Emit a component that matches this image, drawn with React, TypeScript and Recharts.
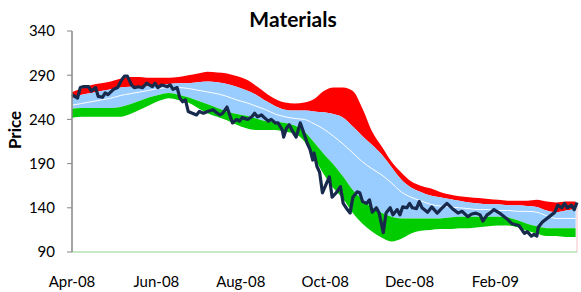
import { ComposedChart, Area, Line, XAxis, YAxis, ReferenceLine } from "recharts";

// band readings, one per week from Apr-08
const bandDays = [
  0, 7, 14, 21, 28, 35, 42, 49, 56, 63, 70, 77, 84, 91, 98, 105, 112, 119, 126, 133, 140, 147, 154, 161, 168, 175,
  182, 189, 196, 203, 210, 217, 224, 231, 238, 245, 252, 259, 266, 273, 280, 287, 294, 301, 308, 315, 322, 329, 336,
  343, 350, 357, 364,
];
const redTop = [
  271, 275, 279, 281, 283, 286, 288, 288, 287, 287, 287, 288, 290, 292, 294, 293, 292, 289, 285, 278, 270, 263, 259,
  258, 259, 263, 272, 276, 276, 272, 252, 226, 209, 192, 180, 170, 165, 162, 158, 155, 153, 152, 151, 150, 149, 148,
  148, 148, 149, 147, 146, 147, 147,
];
const blueTop = [
  264, 268, 270, 272, 274, 276, 277, 277, 278, 279, 280, 281, 281, 282, 283, 282, 280, 277, 273, 268, 261, 255, 251,
  250, 250, 249, 248, 246, 242, 232, 221, 211, 200, 186, 172, 163, 158, 154, 152, 150, 148, 146, 145, 144, 144, 143,
  143, 142, 141, 137, 135, 137, 139,
];
const movingAvg = [
  256, 258, 260, 262, 264, 267, 269, 271, 273, 275, 276, 276, 275, 273, 271, 269, 266, 262, 259, 255, 251, 246, 243,
  241, 240, 235, 229, 221, 212, 202, 192, 184, 177, 168, 158, 152, 148, 144, 142, 141, 140, 139, 138, 138, 137, 137,
  136, 136, 135, 131, 128, 128, 128,
];
const blueBottom = [
  252, 253, 253, 253, 253, 254, 257, 261, 265, 268, 270, 268, 265, 261, 257, 253, 249, 246, 244, 241, 238, 237, 236,
  233, 226, 214, 201, 189, 175, 160, 149, 140, 134, 130, 128, 128, 128, 128, 128, 129, 130, 130, 130, 130, 130, 129,
  126, 122, 119, 117, 117, 117, 117,
];
const greenBottom = [
  242, 243, 243, 243, 243, 243, 246, 251, 256, 261, 264, 262, 259, 253, 247, 243, 239, 234, 230, 228, 228, 228, 226,
  224, 215, 197, 178, 162, 150, 134, 122, 113, 106, 102, 105, 111, 114, 115, 116, 116, 117, 117, 118, 119, 120, 120,
  118, 114, 111, 108, 108, 107, 107,
];

const priceDays = [
  0, 4, 6, 8, 12, 14, 17, 19, 22, 24, 26, 30, 33, 36, 38, 40, 43, 45, 48, 51, 54, 58, 60, 62, 65, 69, 71, 73, 76, 78,
  80, 82, 84, 87, 90, 92, 95, 98, 102, 105, 107, 109, 112, 114, 116, 119, 121, 123, 127, 130, 132, 134, 137, 139, 142,
  144, 147, 149, 152, 153, 155, 157, 160, 162, 165, 167, 170, 172, 174, 175, 177, 179, 181, 184, 186, 188, 191, 194,
  196, 199, 201, 203, 206, 208, 210, 213, 215, 217, 220, 222, 225, 227, 230, 232, 235, 237, 239, 242, 244, 246, 249,
  251, 253, 257, 260, 264, 267, 271, 275, 279, 282, 286, 289, 292, 295, 297, 300, 302, 305, 309, 314, 318, 323, 327,
  329, 332, 334, 336, 337, 340, 345, 349, 351, 354, 356, 358, 361, 363, 365,
];
const priceValues = [
  268, 264, 276, 277, 277, 272, 276, 266, 265, 270, 268, 274, 276, 285, 289, 289, 279, 276, 277, 276, 281, 277, 281,
  276, 279, 277, 279, 274, 276, 264, 260, 262, 249, 247, 245, 249, 247, 249, 251, 247, 245, 247, 254, 245, 236, 240,
  238, 242, 240, 243, 247, 243, 245, 242, 238, 240, 236, 236, 228, 220, 230, 234, 225, 220, 236, 227, 213, 206, 194,
  202, 187, 180, 157, 168, 175, 152, 157, 164, 145, 138, 134, 152, 158, 157, 147, 145, 149, 135, 140, 134, 112, 134,
  140, 132, 138, 132, 141, 140, 145, 140, 139, 147, 140, 135, 141, 134, 139, 145, 139, 134, 136, 130, 133, 134, 132,
  125, 132, 134, 138, 134, 128, 122, 120, 111, 113, 108, 110, 108, 118, 124, 130, 135, 143, 140, 145, 140, 143, 138,
  146,
];

const tickDays = [0, 61, 122, 183, 244, 306];
const tickLabels = ["Apr-08", "Jun-08", "Aug-08", "Oct-08", "Dec-08", "Feb-09"];
const priceTicks = [90, 140, 190, 240, 290, 340];

const bandData = bandDays.map((day, i) => ({
  day,
  upper: [blueTop[i], redTop[i]],
  inner: [blueBottom[i], blueTop[i]],
  lower: [greenBottom[i], blueBottom[i]],
  avg: movingAvg[i],
}));

const priceData = priceDays.map((day, i) => ({ day, price: priceValues[i] }));

const font = "Lato, 'Open Sans', sans-serif";
const tickStyle = { fill: "#000", fontSize: 15, fontFamily: font };

export default function App() {
  return (
    <div
      style={{
        position: "absolute",
        left: 0,
        top: 0,
        width: 581,
        height: 292,
        background: "#fff",
        fontFamily: font,
      }}
    >
      <div
        style={{
          position: "absolute",
          left: 0,
          top: 6,
          width: 586,
          textAlign: "center",
          fontSize: 21,
          fontWeight: 700,
          lineHeight: "25px",
        }}
      >
        Materials
      </div>
      <div
        style={{
          position: "absolute",
          left: 15,
          top: 130,
          transform: "translate(-50%, -50%) rotate(-90deg)",
          fontSize: 17,
          fontWeight: 700,
          lineHeight: "20px",
          whiteSpace: "nowrap",
        }}
      >
        Price
      </div>
      <ComposedChart
        width={581}
        height={292}
        data={bandData}
        margin={{ top: 31, right: 4, bottom: 4, left: 0 }}
      >
        <XAxis
          type="number"
          dataKey="day"
          domain={[0, 365]}
          ticks={tickDays}
          interval={0}
          tickFormatter={(d: number) => tickLabels[tickDays.indexOf(d)]}
          axisLine={{ stroke: "#8FD18F" }}
          tickLine={false}
          tickSize={0}
          tickMargin={24}
          height={36}
          tick={tickStyle}
        />
        <YAxis
          type="number"
          domain={[90, 340]}
          ticks={priceTicks}
          interval={0}
          width={72}
          axisLine={{ stroke: "#868686", strokeWidth: 1.5 }}
          tickLine={{ stroke: "#868686" }}
          tickSize={5}
          tickMargin={12}
          tick={tickStyle}
        />
        <Area
          dataKey="upper"
          type="monotone"
          stroke="none"
          fill="#FF0000"
          fillOpacity={1}
          isAnimationActive={false}
        />
        <Area
          dataKey="inner"
          type="monotone"
          stroke="none"
          fill="#99CCFF"
          fillOpacity={1}
          isAnimationActive={false}
        />
        <Area
          dataKey="lower"
          type="monotone"
          stroke="none"
          fill="#00CC00"
          fillOpacity={1}
          isAnimationActive={false}
        />
        <Line
          dataKey="avg"
          type="monotone"
          stroke="#FFFFFF"
          strokeWidth={1}
          dot={false}
          isAnimationActive={false}
        />
        <ReferenceLine
          segment={[
            { x: 365, y: 90 },
            { x: 365, y: 146 },
          ]}
          stroke="#F4C4C4"
        />
        <Line
          data={priceData}
          dataKey="price"
          type="linear"
          stroke="#172A4B"
          strokeWidth={3.2}
          strokeLinejoin="round"
          dot={false}
          isAnimationActive={false}
        />
      </ComposedChart>
    </div>
  );
}
